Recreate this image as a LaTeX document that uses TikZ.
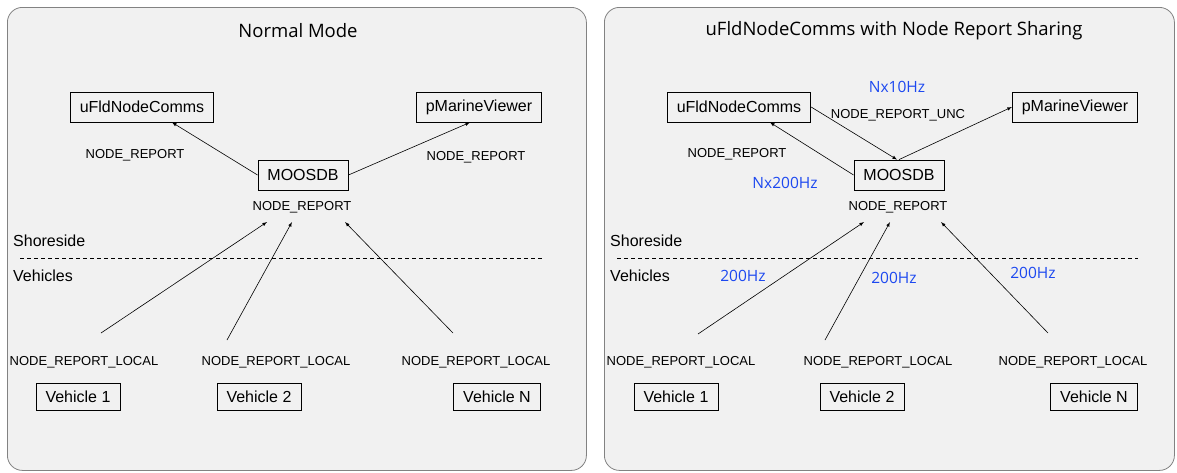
\documentclass[tikz,border=0pt]{standalone}
\usepackage{fontspec}
\setmainfont{Liberation Sans}
\newfontfamily\titlefont{Open Sans}
\usetikzlibrary{positioning}
\definecolor{panelgray}{RGB}{241,241,241}
\definecolor{panelline}{RGB}{130,130,130}
\definecolor{hzblue}{RGB}{28,72,240}

\begin{document}
\begin{tikzpicture}[x=1pt,y=-1pt,>=latex,
						panel/.style={draw=panelline,fill=panelgray,rounded corners=15pt,line width=0.8pt},
						app/.style={draw,line width=0.8pt,font=\fontsize{16}{18}\selectfont,minimum height=30pt,inner xsep=9.5pt},
						vehicle/.style={app,minimum height=27pt},
						msg/.style={font=\fontsize{13}{15}\selectfont},
						rate/.style={text=hzblue,font=\titlefont\fontsize{15.5}{17}\selectfont},
						title/.style={font=\titlefont\fontsize{18.5}{21}\selectfont},
						zone/.style={font=\fontsize{16}{18}\selectfont,inner xsep=0pt,anchor=west},
						feed/.style={->,line width=0.6pt},
						border/.style={dash pattern=on 4pt off 3pt,line width=0.6pt}]

						\useasboundingbox (0,0) rectangle (1177,472);

						%%% Panels
						\node [panel,minimum width=579pt,minimum height=463pt,anchor=north west] (panelL) at (7,7) {};
						\node [panel,minimum width=570pt,minimum height=463pt,anchor=north west] (panelR) at (604,7) {};
						\node [title] (titleL) at (298,31) {Normal Mode};
						\node [title] (titleR) at (894,31) {uFldNodeComms with Node Report Sharing};

						%%% Left: Normal Mode
						\node [app] (ufldL) at (142,107) {uFldNodeComms};
						\node [app] (pmvL) at (479,107) {pMarineViewer};
						\node [app] (moosL) at (303,175) {MOOSDB};
						\node [msg] (toufldL) at (135,155) {NODE\_REPORT};
						\node [msg] (topmvL) at (476,157) {NODE\_REPORT};
						\node [msg] (repL) at (302,207) {NODE\_REPORT};
						\node [zone] (shoreL) at (13,241) {Shoreside};
						\node [zone] (vehL) at (13,276) {Vehicles};
						\coordinate (lineLa) at (20,258);
						\coordinate (lineLb) at (543,258);
						\draw [border] (lineLa) -- (lineLb);

						\node [msg] (localL1) at (84,362) {NODE\_REPORT\_LOCAL};
						\node [msg] (localL2) at (276,362) {NODE\_REPORT\_LOCAL};
						\node [msg] (localL3) at (476,362) {NODE\_REPORT\_LOCAL};
						\node [vehicle] (vL1) at (78,397) {Vehicle 1};
						\node [vehicle] (vL2) at (259,397) {Vehicle 2};
						\node [vehicle] (vL3) at (497,397) {Vehicle N};

						\path [feed] (moosL.west) edge ([xshift=30pt]ufldL.south);
						\path [feed] (moosL.east) edge ([xshift=-9pt]pmvL.south);

						\coordinate (sL1) at (101,333);
						\coordinate (sL2) at (227,340);
						\coordinate (sL3) at (453,333);
						\coordinate (eL1) at (267,222);
						\coordinate (eL2) at (292,222);
						\coordinate (eL3) at (345,222);
						\path [feed] (sL1) edge (eL1);
						\path [feed] (sL2) edge (eL2);
						\path [feed] (sL3) edge (eL3);

						%%% Right: Node Report Sharing
						\node [app] (ufldR) at (739,107) {uFldNodeComms};
						\node [app] (pmvR) at (1075,107) {pMarineViewer};
						\node [app] (moosR) at (899,175) {MOOSDB};
						\node [rate] (rateunc) at (897,87) {Nx10Hz};
						\node [msg] (unc) at (898,115) {NODE\_REPORT\_UNC};
						\node [msg] (toufldR) at (737,154) {NODE\_REPORT};
						\node [rate] (rateall) at (785,183) {Nx200Hz};
						\node [msg] (repR) at (898,207) {NODE\_REPORT};
						\node [zone] (shoreR) at (610,241) {Shoreside};
						\node [zone] (vehR) at (610,276) {Vehicles};
						\coordinate (lineRa) at (617,258);
						\coordinate (lineRb) at (1138,258);
						\draw [border] (lineRa) -- (lineRb);

						\node [rate] (rateR1) at (743,276) {200Hz};
						\node [rate] (rateR2) at (894,278) {200Hz};
						\node [rate] (rateR3) at (1033,273) {200Hz};
						\node [msg] (localR1) at (681,362) {NODE\_REPORT\_LOCAL};
						\node [msg] (localR2) at (878,362) {NODE\_REPORT\_LOCAL};
						\node [msg] (localR3) at (1073,362) {NODE\_REPORT\_LOCAL};
						\node [vehicle] (vR1) at (676,397) {Vehicle 1};
						\node [vehicle] (vR2) at (862,397) {Vehicle 2};
						\node [vehicle] (vR3) at (1094,397) {Vehicle N};

						\path [feed] (ufldR.east) edge ([xshift=-2pt]moosR.north);
						\path [feed] (moosR.north) edge (pmvR.west);
						\path [feed] (moosR.west) edge ([xshift=31pt]ufldR.south);

						\coordinate (sR1) at (698,334);
						\coordinate (sR2) at (825,340);
						\coordinate (sR3) at (1048,333);
						\coordinate (eR1) at (864,222);
						\coordinate (eR2) at (890,222);
						\coordinate (eR3) at (941,222);
						\path [feed] (sR1) edge (eR1);
						\path [feed] (sR2) edge (eR2);
						\path [feed] (sR3) edge (eR3);
					\end{tikzpicture}
\end{document}
